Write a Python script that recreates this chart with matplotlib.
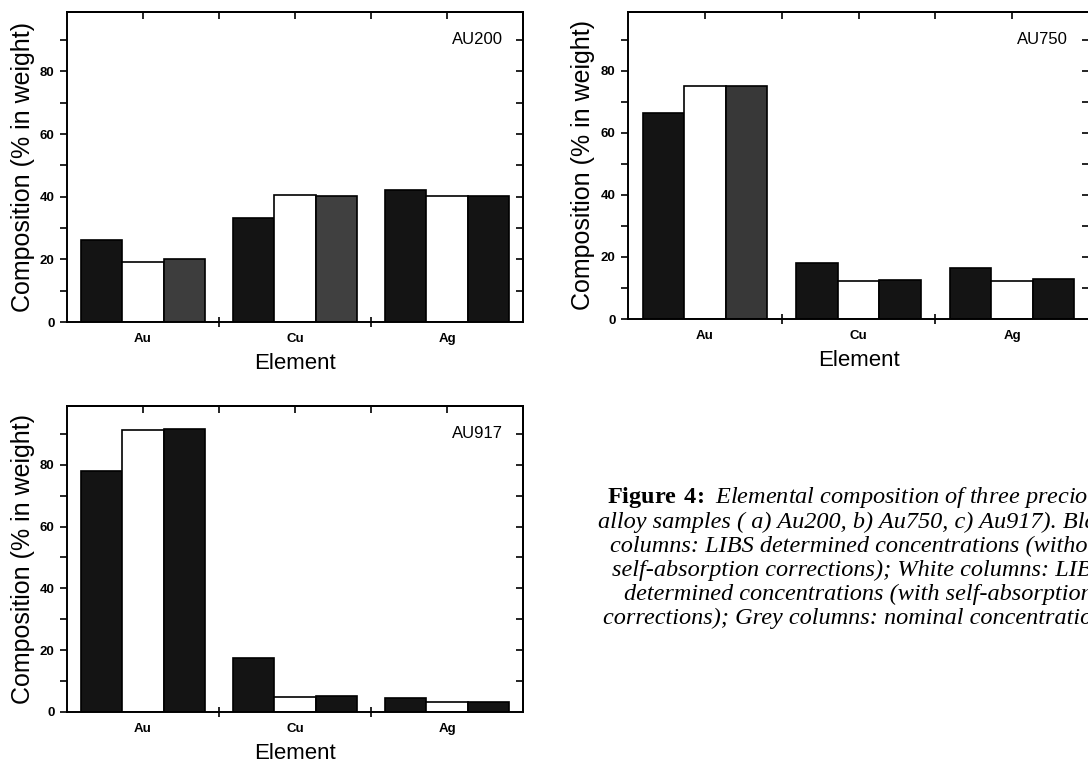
import matplotlib
matplotlib.use('Agg')
import matplotlib.pyplot as plt
from matplotlib.ticker import NullFormatter

# categories and values (% in weight)
elements = ['Au', 'Cu', 'Ag']

au200_libs = [26.1, 33.2, 42.1]
au200_corr = [19.3, 40.4, 40.2]
au200_nominal = [20.1, 40.2, 40.1]

au750_libs = [66.3, 18.2, 16.4]
au750_corr = [75.0, 12.1, 12.4]
au750_nominal = [75.0, 12.7, 12.8]

au917_libs = [78.0, 17.6, 4.5]
au917_corr = [91.1, 5.0, 3.3]
au917_nominal = [91.7, 5.2, 3.1]

caption = [
    r'$\mathbf{Figure\ 4\!:}$ Elemental composition of three precious',
    'alloy samples ( a) Au200, b) Au750, c) Au917). Black',
    'columns: LIBS determined concentrations (without',
    'self-absorption corrections); White columns: LIBS',
    'determined concentrations (with self-absorption',
    'corrections); Grey columns: nominal concentrations',
]

plt.rcParams['font.family'] = ['Liberation Sans', 'DejaVu Sans']
plt.rcParams['mathtext.fontset'] = 'custom'
plt.rcParams['mathtext.bf'] = 'Liberation Serif:bold'
plt.rcParams['mathtext.rm'] = 'Liberation Serif'

W, H = 1088, 765
fig = plt.figure(figsize=(W / 100, H / 100), dpi=100)


def px_axes(left, top, right, bottom):
    return fig.add_axes([left / W, 1 - bottom / H, (right - left) / W, (bottom - top) / H])


def panel(ax, name, libs, corr, nominal, grey_colors):
    x = [1, 2, 3]
    w = 0.27
    ax.bar([i - w for i in x], libs, w, color='#141414', edgecolor='black', linewidth=1.2)
    ax.bar(x, corr, w, color='white', edgecolor='black', linewidth=1.2)
    ax.bar([i + w for i in x], nominal, w, color=grey_colors, edgecolor='black', linewidth=1.2)

    ax.set_xlim(0.5, 3.5)
    ax.set_ylim(0, 99)

    # x axis: labels at the groups, separators between them
    ax.set_xticks(x)
    ax.set_xticklabels(elements, fontsize=9.5, fontweight='bold')
    ax.set_xticks([1.5, 2.5], minor=True)
    ax.tick_params(axis='x', which='major', length=0, pad=8)
    ax.tick_params(axis='x', which='minor', length=7, direction='inout', width=1.2)

    # y axis: ticks pointing out on the left
    ax.set_yticks([0, 20, 40, 60, 80])
    ax.set_yticks(range(10, 100, 20), minor=True)
    ax.tick_params(axis='y', which='both', length=5, width=1.2, direction='out', pad=4,
                   labelsize=9.5)
    for lab in ax.get_yticklabels():
        lab.set_fontweight('bold')

    # top and right: ticks pointing in
    top = ax.secondary_xaxis('top')
    top.set_xticks([1, 1.5, 2, 2.5, 3])
    top.xaxis.set_major_formatter(NullFormatter())
    top.tick_params(direction='in', length=5, width=1.2)
    right = ax.secondary_yaxis('right')
    right.set_yticks(range(10, 100, 10))
    right.yaxis.set_major_formatter(NullFormatter())
    right.tick_params(direction='in', length=5, width=1.2)
    for sp in list(ax.spines.values()) + list(top.spines.values()) + list(right.spines.values()):
        sp.set_linewidth(1.4)

    ax.set_ylabel('Composition (% in weight)', fontsize=18)
    ax.yaxis.set_label_coords(-0.071, 0.5)
    ax.set_xlabel('Element', fontsize=16, va='top')
    ax.xaxis.set_label_coords(0.5, -0.1)
    ax.text(0.955, 0.91, name, transform=ax.transAxes, ha='right', va='center', fontsize=12)


ax_a = px_axes(67, 12, 523, 322)
panel(ax_a, 'AU200', au200_libs, au200_corr, au200_nominal, ['#3d3d3d', '#404040', '#141414'])

ax_b = px_axes(628, 12, 1089, 319)
panel(ax_b, 'AU750', au750_libs, au750_corr, au750_nominal, ['#383838', '#141414', '#141414'])

ax_c = px_axes(67, 406, 523, 712)
panel(ax_c, 'AU917', au917_libs, au917_corr, au917_nominal, ['#141414', '#141414', '#141414'])

# caption, partly cut by the right edge as in the scan
cx = 858 / W
for i, line in enumerate(caption):
    fig.text(cx, 1 - (498 + 24 * i) / H, line, ha='center', va='center',
             fontsize=17.5, style='italic', family='Liberation Serif')

fig.savefig('out.png', dpi=100)
